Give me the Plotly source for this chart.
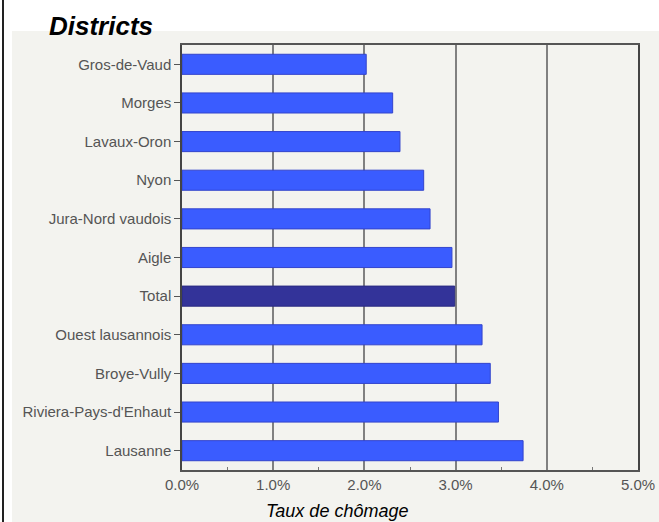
import plotly.graph_objects as go

districts = ["Gros-de-Vaud", "Morges", "Lavaux-Oron", "Nyon", "Jura-Nord vaudois", "Aigle",
             "Total", "Ouest lausannois", "Broye-Vully", "Riviera-Pays-d'Enhaut", "Lausanne"]
rates = [0.0202, 0.0231, 0.0239, 0.0265, 0.0272, 0.0296, 0.0299, 0.0329, 0.0338, 0.0347, 0.0374]
colors = ["#3a5cff" if d != "Total" else "#333399" for d in districts]
line_colors = ["#3344cc" if d != "Total" else "#2a2a80" for d in districts]

W, H = 659, 522
L, R, T, B = 182, 21, 45, 52
pw, ph = W - L - R, H - T - B

def px_x(p):
    return (p - L) / pw

def px_y(p):
    return 1 - (p - T) / ph

FONT = "Liberation Sans, Arial, sans-serif"

fig = go.Figure(go.Bar(
    x=rates, y=districts, orientation="h",
    marker=dict(color=colors, line=dict(color=line_colors, width=1)),
    width=0.52,
))

panel = "#f3f3ef"
fig.update_layout(
    width=W, height=H,
    margin=dict(l=L, r=R, t=T, b=B, autoexpand=False),
    paper_bgcolor="white",
    plot_bgcolor=panel,
    showlegend=False,
    font=dict(family=FONT, size=15, color="#555555"),
    shapes=[
        dict(type="rect", xref="paper", yref="paper", layer="below",
             x0=px_x(12), x1=px_x(659), y0=px_y(31), y1=px_y(522),
             fillcolor=panel, line=dict(width=0, color=panel)),
        dict(type="line", xref="paper", yref="paper",
             x0=px_x(3), x1=px_x(3), y0=px_y(0), y1=px_y(522),
             line=dict(color="#222222", width=2)),
    ],
    annotations=[
        dict(text="Districts", xref="paper", yref="paper", x=px_x(47), y=px_y(26),
             xanchor="left", yanchor="middle", showarrow=False,
             font=dict(family=FONT, size=26, color="black", weight="bold", style="italic")),
        dict(text="Taux de chômage", xref="paper", yref="paper", x=px_x(337), y=px_y(511),
             xanchor="center", yanchor="middle", showarrow=False,
             font=dict(family=FONT, size=18, color="black", style="italic")),
    ],
)

fig.update_xaxes(
    range=[0, 0.05], dtick=0.01, tickformat=".1%", automargin=False,
    showgrid=True, gridcolor="#808080", gridwidth=1.5,
    showline=True, linecolor="#555555", linewidth=1.5, mirror=True,
    ticks="", zeroline=False,
    minor=dict(dtick=0.005, ticks="inside", ticklen=3, tickcolor="#777777", showgrid=False),
    tickfont=dict(size=15, color="#555555"),
)
fig.update_yaxes(
    autorange="reversed", automargin=False,
    showline=True, linecolor="#444444", linewidth=1.5, mirror=True,
    ticks="outside", ticklen=6, tickcolor="#555555",
    showgrid=False,
    tickfont=dict(size=15, color="#555555"),
)

fig.write_html(
    "out.html", config={"displayModeBar": False},
    post_script="document.body.style.margin='0';document.body.style.overflow='hidden';"
                "document.documentElement.style.overflow='hidden';",
)
